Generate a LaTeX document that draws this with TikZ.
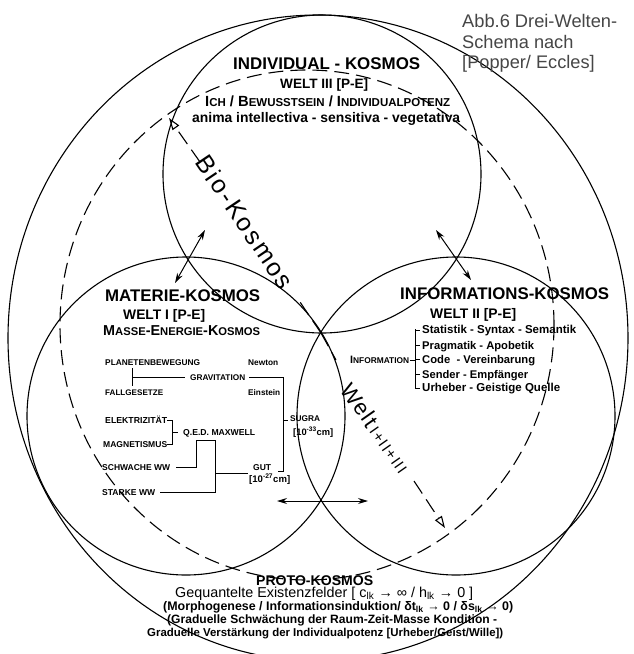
\documentclass[tikz,border=0pt]{standalone}
\usepackage{fontspec}
\setmainfont{Liberation Sans}
\newfontfamily\handA[LetterSpace=9]{Liberation Sans}
\newfontfamily\handB[LetterSpace=6]{Liberation Sans}
\newfontfamily\handC[LetterSpace=10]{Liberation Sans}
\usetikzlibrary{arrows.meta}
\definecolor{abbgray}{RGB}{70,70,70}
\newcommand{\W}[2]{\resizebox{#1pt}{!}{#2}}
\newcommand{\Sc}[2]{{\fontsize{10}{12}\selectfont #1}{\fontsize{7.8}{9}\selectfont #2}}
\begin{document}
\begin{tikzpicture}[x=1pt,y=-1pt,
  circ/.style={line width=1.1pt},
  dashc/.style={line width=1.1pt,dash pattern=on 15pt off 7pt},
  dbl/.style={line width=1pt,{Stealth[length=10pt,width=6pt]}-{Stealth[length=10pt,width=6pt]}},
  opentip/.style={line width=1.1pt,dash pattern=on 15pt off 7pt,-{Triangle[open,length=12pt,width=8pt]}},
  brline/.style={line width=0.8pt},
  tl/.style={inner sep=0pt,anchor=base west},
  ]
\useasboundingbox (0,0) rectangle (633,654);
\fill[white] (0,0) rectangle (633,654);
\clip (0,0) rectangle (633,654);

% circles
\draw[circ] (322,174) circle[radius=159pt];
\draw[circ] (186,416) circle[radius=159pt];
\draw[circ] (456,416) circle[radius=159pt];
\draw[circ] (318,338) ellipse[x radius=310pt, y radius=323pt];
\draw[dashc] (307,325) ellipse[x radius=247pt, y radius=255pt];

% double arrows
\coordinate (tlA) at (175,283); \coordinate (tlB) at (205,230);
\coordinate (trA) at (436,230); \coordinate (trB) at (471,280);
\coordinate (bA) at (277,501);  \coordinate (bB) at (368,501);
\draw[dbl] (tlA) -- (tlB);
\draw[dbl] (trA) -- (trB);
\draw[dbl] (bA) -- (bB);

% Bio-Kosmos and Welt arrows
\coordinate (ctr) at (321,333);
\coordinate (bioE) at (300,302);
\coordinate (bioS) at (200,162);
\coordinate (bioT) at (169,118);
\coordinate (weltE) at (336,360);
\coordinate (weltS) at (414,481);
\coordinate (weltT) at (445,528);
\draw[dashc] (ctr) -- (bioE);
\draw[opentip] (bioS) -- (bioT);
\draw[dashc] (ctr) -- (weltE);
\draw[opentip] (weltS) -- (weltT);
\node[inner sep=0pt,rotate=-56] (bio) at (245,222) {\fontsize{25}{25}\handA Bio-Kosmos};
\node[inner sep=0pt,rotate=-55] (welt) at (376,428) {\fontsize{22}{22}\handB Welt\hspace{3pt}\fontsize{15}{15}\handC I+II+III};

% caption
\node[tl,text=abbgray] (abb1) at (462,27) {\W{155}{Abb.6 Drei-Welten-}};
\node[tl,text=abbgray] (abb2) at (462,48) {\fontsize{18.2}{20}\selectfont Schema nach};
\node[tl,text=abbgray] (abb3) at (462,68) {\fontsize{18.2}{20}\selectfont [Popper/ Eccles]};

% top circle
\node[tl,font=\bfseries] (indiv) at (233,69) {\W{187}{INDIVIDUAL - KOSMOS}};
\node[tl,font=\bfseries] (w3) at (280,88) {\W{88}{WELT III [P-E]}};
\node[tl,font=\bfseries] (ich) at (205,106) {\W{245}{\Sc{I}{CH} / \Sc{B}{EWUSSTSEIN} / \Sc{I}{NDIVIDUALPOTENZ}}};
\node[tl,font=\bfseries] (anima) at (192,122) {\W{268}{anima intellectiva - sensitiva - vegetativa}};

% left circle
\node[tl,font=\bfseries] (mat) at (105,301) {\W{155}{MATERIE-KOSMOS}};
\node[tl,font=\bfseries] (w1) at (123,319) {\W{82}{WELT I [P-E]}};
\node[tl,font=\bfseries] (mek) at (103,335) {\W{157}{\Sc{M}{ASSE}-\Sc{E}{NERGIE}-\Sc{K}{OSMOS}}};

\node[tl,font=\bfseries] (planet) at (105,365) {\W{95}{PLANETENBEWEGUNG}};
\node[tl,font=\bfseries] (newton) at (248,365) {\W{30}{Newton}};
\node[tl,font=\bfseries] (grav) at (190,380) {\W{55}{GRAVITATION}};
\node[tl,font=\bfseries] (fall) at (105,395) {\W{58}{FALLGESETZE}};
\node[tl,font=\bfseries] (einst) at (248,395) {\W{32}{Einstein}};
\node[tl,font=\bfseries] (elek) at (105,423) {\W{62}{ELEKTRIZITÄT}};
\node[tl,font=\bfseries] (magn) at (103,447) {\W{64}{MAGNETISMUS}};
\node[tl,font=\bfseries] (qed) at (183,435) {\W{72}{Q.E.D. MAXWELL}};
\node[tl,font=\bfseries] (schw) at (102,470) {\W{68}{SCHWACHE WW}};
\node[tl,font=\bfseries] (stark) at (102,495) {\W{53}{STARKE WW}};
\node[tl,font=\bfseries] (gut) at (253,470) {\W{18}{GUT}};
\node[tl,font=\bfseries] (gutl) at (249,482) {\W{41}{[10\textsuperscript{-27}cm]}};
\node[tl,font=\bfseries] (sugra) at (290,421) {\W{30}{SUGRA}};
\node[tl,font=\bfseries] (sugral) at (293,435) {\W{40}{[10\textsuperscript{-33}cm]}};

\coordinate (p1) at (132,368); \coordinate (p2) at (132,386);
\coordinate (p3) at (132,377); \coordinate (p4) at (185,377);
\draw[brline] (p1) -- (p2);
\draw[brline] (p3) -- (p4);
\coordinate (g1) at (249,377); \coordinate (g2) at (283,377);
\coordinate (g3) at (283,471); \coordinate (g4) at (278,471);
\coordinate (s1) at (283,420); \coordinate (s2) at (288,420);
\draw[brline] (g1) -- (g2) -- (g3) -- (g4);
\draw[brline] (s1) -- (s2);
\coordinate (e1) at (167,420); \coordinate (e2) at (172,420);
\coordinate (e3) at (172,444); \coordinate (e4) at (167,444);
\coordinate (e5) at (172,432); \coordinate (e6) at (178,432);
\draw[brline] (e1) -- (e2) -- (e3) -- (e4);
\draw[brline] (e5) -- (e6);
\coordinate (q1) at (176,467); \coordinate (q2) at (196,467);
\coordinate (q3) at (196,440); \coordinate (q4) at (215,440);
\coordinate (q5) at (215,492); \coordinate (q6) at (160,492);
\coordinate (q7) at (215,473); \coordinate (q8) at (248,473);
\draw[brline] (q1) -- (q2) -- (q3) -- (q4) -- (q5) -- (q6);
\draw[brline] (q7) -- (q8);

% right circle
\node[tl,font=\bfseries] (info) at (400,299) {\W{209}{INFORMATIONS-KOSMOS}};
\node[tl,font=\bfseries] (w2) at (430,318) {\W{86}{WELT II [P-E]}};
\node[tl,font=\bfseries] (infl) at (350,363) {\W{59}{\Sc{I}{NFORMATION}}};
\node[tl,font=\bfseries] (i1) at (422,333) {\W{154}{Statistik - Syntax - Semantik}};
\node[tl,font=\bfseries] (i2) at (422,349) {\W{112}{Pragmatik - Apobetik}};
\node[tl,font=\bfseries] (i3) at (422,363) {\W{113}{Code\ \ - Vereinbarung}};
\node[tl,font=\bfseries] (i4) at (422,378) {\W{106}{Sender - Empfänger}};
\node[tl,font=\bfseries] (i5) at (422,391) {\W{138}{Urheber - Geistige Quelle}};
\coordinate (r0) at (415,329); \coordinate (r6) at (415,389);
\draw[brline] (r0) -- (r6);
\foreach \yy in {330,345,359,374,388}{\draw[brline] (415,\yy) -- (420,\yy);}
\coordinate (rm1) at (410,360); \coordinate (rm2) at (415,360);
\draw[brline] (rm1) -- (rm2);

% bottom
\node[tl,font=\bfseries] (proto) at (256,585) {\W{117}{PROTO-KOSMOS}};
\node[tl] (geq) at (175,597) {\W{298}{Gequantelte Existenzfelder [ c\textsubscript{lk} → ∞ / h\textsubscript{lk} → 0 ]}};
\node[tl,font=\bfseries] (morph) at (163,610) {\W{350}{(Morphogenese / Informationsinduktion/ δt\textsubscript{lk} → 0 / δs\textsubscript{lk} → 0)}};
\node[tl,font=\bfseries] (grad1) at (167,623) {\W{330}{(Graduelle Schwächung der Raum-Zeit-Masse Kondition -}};
\node[tl,font=\bfseries] (grad2) at (147,636) {\W{356}{Graduelle Verstärkung der Individualpotenz [Urheber/Geist/Wille])}};
\end{tikzpicture}
\end{document}
